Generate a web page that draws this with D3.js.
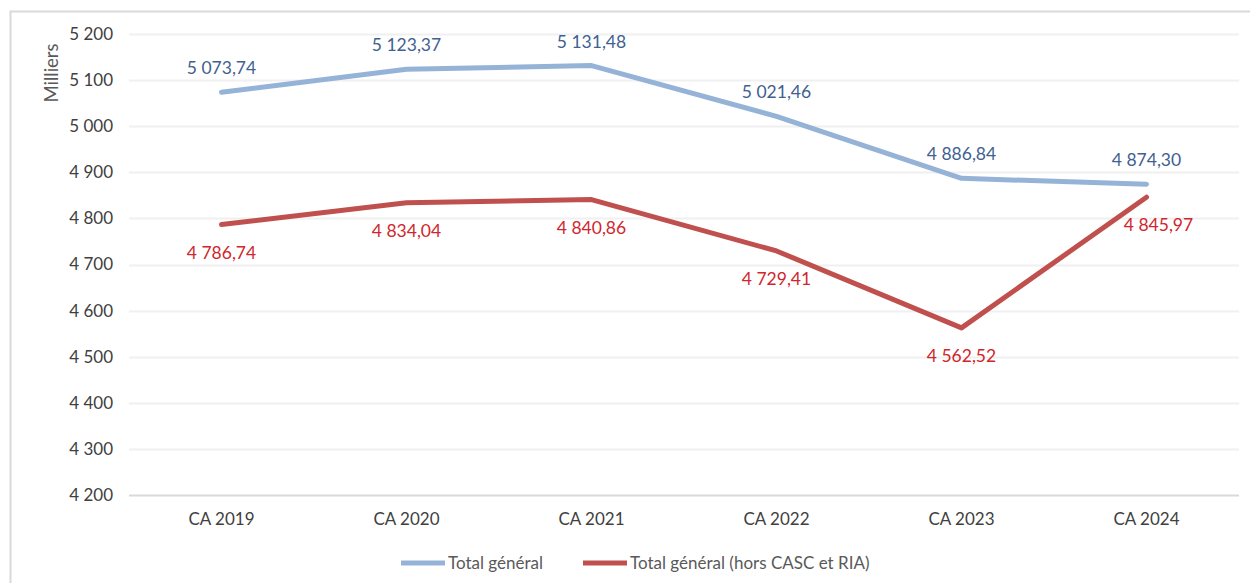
<!DOCTYPE html>
<html>
<head>
<meta charset="utf-8">
<script src="https://cdn.jsdelivr.net/npm/d3@7"></script>
<style>
  body { margin: 0; background: #fff; }
  svg text { font-family: Lato, "Open Sans", sans-serif; }
</style>
</head>
<body>
<div id="chart"></div>
<script>
// categories and the two series (milliers)
const years = ["CA 2019", "CA 2020", "CA 2021", "CA 2022", "CA 2023", "CA 2024"];
const totalGeneral = [5073.74, 5123.37, 5131.48, 5021.46, 4886.84, 4874.30];
const totalHorsCasc = [4786.74, 4834.04, 4840.86, 4729.41, 4562.52, 4845.97];
const yTicks = [4200, 4300, 4400, 4500, 4600, 4700, 4800, 4900, 5000, 5100, 5200];
const seriesNames = ["Total général", "Total général (hors CASC et RIA)"];

const W = 1250, H = 583;
const margin = {top: 34, right: 11, bottom: 88, left: 129};
const width = W - margin.left - margin.right,
      height = H - margin.top - margin.bottom;

const svg = d3.select("#chart")
  .append("svg")
  .attr("width", W)
  .attr("height", H);

// chart frame
svg.append("rect")
  .attr("x", 10.5).attr("y", 11.5)
  .attr("width", W + 10).attr("height", H + 10)
  .attr("fill", "none")
  .attr("stroke", "#d9d9d9")
  .attr("stroke-width", 2);

const g = svg.append("g")
  .attr("transform", `translate(${margin.left},${margin.top})`);

const x = d3.scaleBand()
  .domain(years)
  .range([0, width]);

const y = d3.scaleLinear()
  .domain([4200, 5200])
  .range([height, 0]);

// number format like "5 073,74"
const fr = d3.formatLocale({decimal: ",", thousands: " ", grouping: [3], currency: ["", " €"]});
const fmtTick = fr.format(",d");
const fmtVal = fr.format(",.2f");

// gridlines
g.append("g")
  .selectAll("line")
  .data(yTicks)
  .join("line")
    .attr("x1", 0).attr("x2", width)
    .attr("y1", d => Math.round(y(d)) + 0.5)
    .attr("y2", d => Math.round(y(d)) + 0.5)
    .attr("stroke", d => d === 4200 ? "#d9d9d9" : "#f0f0f0")
    .attr("stroke-width", 2);

// y axis
const yAxis = g.append("g")
  .call(d3.axisLeft(y).tickValues(yTicks).tickFormat(fmtTick).tickSize(0).tickPadding(16));
yAxis.select(".domain").remove();
yAxis.selectAll("text")
  .attr("fill", "#404040")
  .style("font-size", "17px");

// x axis
const xAxis = g.append("g")
  .attr("transform", `translate(0,${height})`)
  .call(d3.axisBottom(x).tickSize(0).tickPadding(18));
xAxis.select(".domain").remove();
xAxis.selectAll("text")
  .attr("fill", "#404040")
  .style("font-size", "17px");

// y label
g.append("text")
  .attr("transform", "rotate(-90)")
  .attr("x", -73 + margin.top)
  .attr("y", -margin.left + 58)
  .attr("text-anchor", "middle")
  .attr("fill", "#595959")
  .style("font-size", "18.5px")
  .text("Milliers");

const cx = d => x(d) + x.bandwidth() / 2;

const series = [
  {name: seriesNames[0], values: totalGeneral, color: "#95b3d7", label: "#3f618f"},
  {name: seriesNames[1], values: totalHorsCasc, color: "#c0504d", label: "#d0262d"}
];

const line = d3.line()
  .x((d, i) => cx(years[i]))
  .y(d => y(d));

g.selectAll(".serie")
  .data(series)
  .join("path")
    .attr("class", "serie")
    .attr("d", d => line(d.values))
    .attr("fill", "none")
    .attr("stroke", d => d.color)
    .attr("stroke-width", 5)
    .attr("stroke-linecap", "round")
    .attr("stroke-linejoin", "round");

// data labels: blue above, red below
series.forEach((s, si) => {
  g.append("g")
    .selectAll("text")
    .data(s.values)
    .join("text")
      .attr("x", (d, i) => cx(years[i]) + (si === 1 && i === 5 ? 12 : 0))
      .attr("y", d => y(d) + (si === 0 ? -18 : 34))
      .attr("text-anchor", "middle")
      .attr("fill", s.label)
      .style("font-size", "17.5px")
      .text(d => fmtVal(d));
});

// legend
const legend = svg.append("g")
  .attr("transform", "translate(0,563)");
const legendX = [401, 583];
series.forEach((s, i) => {
  legend.append("line")
    .attr("x1", legendX[i]).attr("x2", legendX[i] + 44)
    .attr("y1", 0).attr("y2", 0)
    .attr("stroke", s.color)
    .attr("stroke-width", 5);
  legend.append("text")
    .attr("x", legendX[i] + 47)
    .attr("y", 6)
    .attr("fill", "#595959")
    .style("font-size", "17px")
    .text(s.name);
});
</script>
</body>
</html>
